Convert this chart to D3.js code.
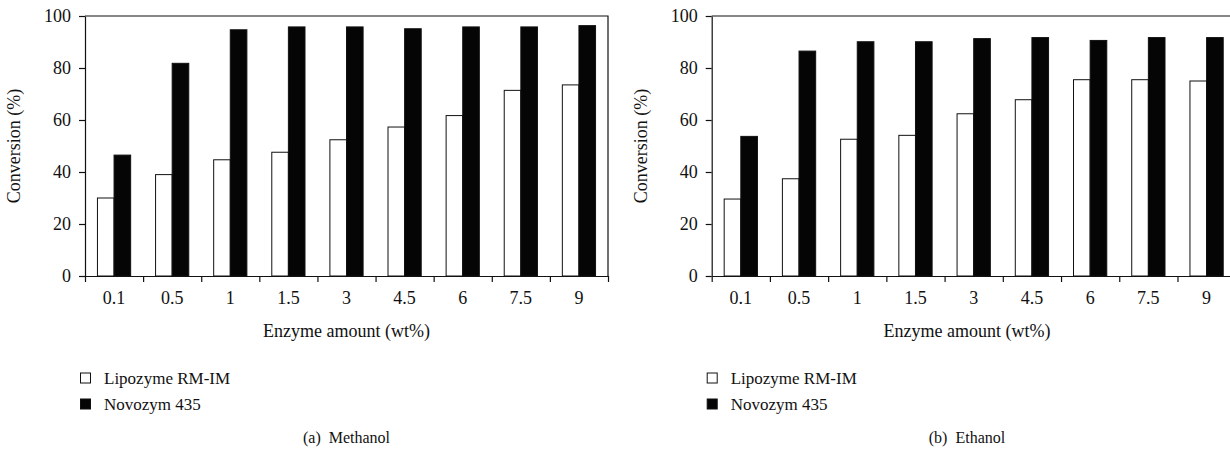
<!DOCTYPE html>
<html>
<head>
<meta charset="utf-8">
<script src="https://cdn.jsdelivr.net/npm/d3@7.9.0/dist/d3.min.js"></script>
<style>
  body { margin: 0; background: #fff; }
  svg { display: block; }
  svg text { font-family: "Liberation Serif", "DejaVu Serif", serif; fill: #111; }
  .tick text { font-size: 18px; }
  .domain, .tick line { stroke: #111; stroke-width: 1.2; }
</style>
</head>
<body>
<svg id="chart" width="1230" height="453"></svg>
<script>
const categories = ['0.1', '0.5', '1', '1.5', '3', '4.5', '6', '7.5', '9'];
const series = ['Lipozyme RM-IM', 'Novozym 435'];
const seriesFill = ['#fff', '#050505'];

// (a) methanol
const methanolLipozyme = [30, 39, 44.7, 47.6, 52.4, 57.3, 61.7, 71.4, 73.5];
const methanolNovozym = [46.5, 81.8, 94.7, 95.8, 95.8, 95.1, 95.8, 95.8, 96.3];
// (b) ethanol
const ethanolLipozyme = [29.6, 37.4, 52.6, 54.1, 62.4, 67.8, 75.5, 75.5, 75];
const ethanolNovozym = [53.7, 86.5, 90.1, 90.1, 91.3, 91.7, 90.6, 91.7, 91.7];

const yTicks = [0, 20, 40, 60, 80, 100];

const panels = [
  { left: 85, width: 523, caption: '(a)  Methanol', values: [methanolLipozyme, methanolNovozym] },
  { left: 711.7, width: 524, caption: '(b)  Ethanol', values: [ethanolLipozyme, ethanolNovozym] }
];

const plotTop = 16, plotBottom = 276;
const svg = d3.select('#chart');

panels.forEach(p => {
  const g = svg.append('g');

  let x0 = d3.scaleBand().domain(categories).range([p.left, p.left + p.width]).padding(0);
  let x1 = d3.scaleBand().domain(series).range([0, x0.bandwidth()]).paddingInner(0).paddingOuter(0.75);
  let y = d3.scaleLinear().domain([0, 100]).range([plotBottom, plotTop]);

  // bars
  categories.forEach((c, i) => {
    series.forEach((s, j) => {
      g.append('rect')
        .attr('x', x0(c) + x1(s))
        .attr('y', y(p.values[j][i]))
        .attr('width', x1.bandwidth())
        .attr('height', y(0) - y(p.values[j][i]))
        .attr('fill', seriesFill[j])
        .attr('stroke', '#111')
        .attr('stroke-width', 1);
    });
  });

  // frame (top + right)
  g.append('path')
    .attr('d', `M${p.left},${plotTop}H${p.left + p.width}V${plotBottom}`)
    .attr('fill', 'none')
    .attr('stroke', '#111')
    .attr('stroke-width', 1.2);

  // y axis
  g.append('g')
    .attr('transform', `translate(${p.left},0)`)
    .call(d3.axisLeft(y).tickValues(yTicks).tickSize(6).tickSizeOuter(0).tickPadding(8))
    .attr('font-family', null).attr('font-size', null);

  // x axis: ticks at category boundaries
  let xb = d3.scaleLinear().domain([0, categories.length]).range([p.left, p.left + p.width]);
  g.append('g')
    .attr('transform', `translate(0,${plotBottom})`)
    .call(d3.axisBottom(xb).tickValues(d3.range(categories.length + 1)).tickSize(6).tickSizeOuter(0).tickFormat(''));

  // x labels at centres
  g.append('g')
    .attr('transform', `translate(0,${plotBottom})`)
    .call(d3.axisBottom(x0).tickSize(0).tickPadding(15))
    .attr('font-family', null).attr('font-size', null)
    .call(a => a.select('.domain').remove());

  const cx = p.left + p.width / 2;

  g.append('text')
    .attr('transform', `translate(${p.left - 65},${(plotTop + plotBottom) / 2}) rotate(-90)`)
    .attr('text-anchor', 'middle')
    .attr('font-size', 18)
    .text('Conversion (%)');

  g.append('text')
    .attr('x', Math.min(cx, 967))
    .attr('y', 337)
    .attr('text-anchor', 'middle')
    .attr('font-size', 18)
    .text('Enzyme amount (wt%)');

  // legend
  series.forEach((s, j) => {
    let ly = 378 + j * 26;
    g.append('rect')
      .attr('x', p.left - 4.5)
      .attr('y', ly - 5)
      .attr('width', 10)
      .attr('height', 10)
      .attr('fill', seriesFill[j])
      .attr('stroke', '#111')
      .attr('stroke-width', 1);
    g.append('text')
      .attr('x', p.left + 19)
      .attr('y', ly + 6)
      .attr('font-size', 17)
      .text(s);
  });

  g.append('text')
    .attr('x', Math.min(cx, 967))
    .attr('y', 443)
    .attr('text-anchor', 'middle')
    .attr('font-size', 16)
    .style('white-space', 'pre')
    .text(p.caption);
});
</script>
</body>
</html>
